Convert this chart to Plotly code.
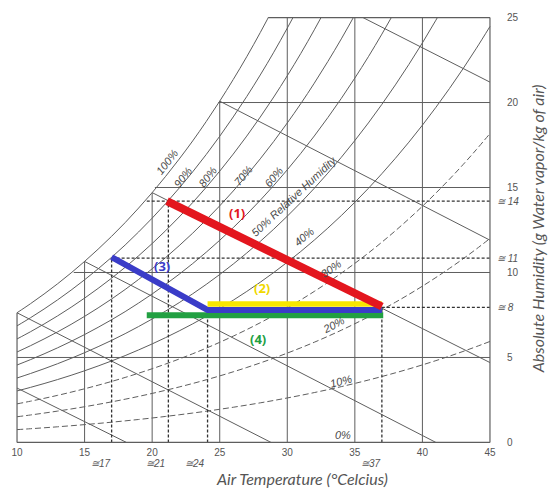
import plotly.graph_objects as go

# ---------------- data ----------------
temps_c = list(range(10, 46))
# saturation vapour pressure (kPa) at each temperature of temps_c
sat_vapour_kpa = [1.228, 1.313, 1.403, 1.498, 1.599, 1.706, 1.819, 1.938, 2.064, 2.198,
                  2.339, 2.488, 2.645, 2.810, 2.985, 3.169, 3.363, 3.567, 3.782, 4.008,
                  4.246, 4.495, 4.758, 5.034, 5.323, 5.627, 5.945, 6.280, 6.630, 6.997,
                  7.381, 7.784, 8.205, 8.646, 9.108, 9.590]
P_ATM = 101.325
rh_levels = [100, 90, 80, 70, 60, 50, 40, 30, 20, 10]
rh_dashed = [30, 20, 10]

grid_temps = [15, 20, 25, 30, 35, 40]
grid_humid = [5, 10, 15, 20]
grid_humid_start_t = [10.0, 14.2, 20.2, 24.9]
sat_top_temp = 28.6

wetbulb_start_t = [10.0, 10.0, 15.0, 20.0, 25.0, 35.6]
wetbulb_start_w = [3.2, 7.63, 10.65, 14.7, 20.08, 25.0]
wetbulb_end_t = [18.1, 28.8, 41.0, 45.0, 45.0, 45.0]
wetbulb_end_w = [0.0, 0.0, 0.0, 4.7, 11.9, 21.2]

# dotted reference lines
ref_h_w = [14.2, 10.85, 7.95]
ref_h_t0 = [19.6, 17.0, 37.0]
ref_v_t = [17.0, 21.2, 24.1, 37.0]
ref_v_top = [10.85, 14.2, 7.8, 7.95]

# process lines
p1_t = [21.1, 37.0];        p1_w = [14.2, 8.0]
p2_t = [24.1, 37.0];        p2_w = [8.15, 8.15]
p3_t = [17.0, 24.1, 37.0];  p3_w = [10.9, 7.8, 7.8]
p4_t = [19.6, 37.1];        p4_w = [7.48, 7.48]

rh_label_text = ["100%", "90%", "80%", "70%", "60%", "50% Relative Humidity", "40%", "30%", "20%", "10%", "0%"]
rh_label_t = [21.1, 22.3, 24.1, 26.7, 29.0, 30.5, 31.2, 33.2, 33.4, 34.0, 34.1]
rh_label_w = [16.5, 15.6, 15.6, 15.7, 15.6, 14.5, 12.1, 10.2, 6.9, 3.6, 0.45]
rh_label_ang = [-52, -52, -52, -50, -50, -43, -40, -35, -28, -15, 0]

approx_x = [17, 21, 24, 37]
approx_y = [14, 11, 8]
approx_y_pos = [14.2, 10.85, 7.95]

proc_labels = ["(1)", "(2)", "(3)", "(4)"]
proc_label_t = [26.3, 28.1, 20.7, 27.8]
proc_label_w = [13.5, 9.06, 10.4, 6.06]

# ---------------- style ----------------
GRAY = "#5e5e5e"
RED = "#e3161e"
YEL = "#f7e600"
YEL_TXT = "#f0d800"
BLUE = "#3a3cc8"
GREEN = "#22a042"
proc_colors = [RED, YEL_TXT, BLUE, GREEN]


def hum(phi, p):
    return 622.0 * phi * p / (P_ATM - phi * p)


fig = go.Figure()


def add_line(x, y, color=GRAY, width=1.0, dash="solid", shape="linear"):
    fig.add_trace(go.Scatter(x=x, y=y, mode="lines",
                             line=dict(color=color, width=width, dash=dash, shape=shape),
                             hoverinfo="skip", showlegend=False))


# relative humidity curves
for rh in rh_levels:
    w = [hum(rh / 100.0, p) for p in sat_vapour_kpa]
    add_line(temps_c, w, dash="6px,3px" if rh in rh_dashed else "solid", shape="spline")

# vertical grid lines
for t in grid_temps:
    top = min(hum(1.0, sat_vapour_kpa[temps_c.index(t)]), 25.0)
    add_line([t, t], [0, top])

# horizontal grid lines
for w, t0 in zip(grid_humid, grid_humid_start_t):
    add_line([t0, 45], [w, w])

# wet-bulb lines
for a, b, c, d in zip(wetbulb_start_t, wetbulb_start_w, wetbulb_end_t, wetbulb_end_w):
    add_line([a, c], [b, d])

# dotted reference lines
for w, t0 in zip(ref_h_w, ref_h_t0):
    add_line([t0, 45], [w, w], color="#333333", width=1.3, dash="3px,2px")
for t, top in zip(ref_v_t, ref_v_top):
    add_line([t, t], [0, top], color="#333333", width=1.3, dash="3px,2px")

# process lines
add_line(p4_t, p4_w, color=GREEN, width=6)
add_line(p3_t, p3_w, color=BLUE, width=6)
add_line(p2_t, p2_w, color=YEL, width=5.5)
add_line(p1_t, p1_w, color=RED, width=8)

# mask curve overshoot above the top border, then frame
shapes = [
    dict(type="rect", xref="x", yref="y", x0=9.85, x1=45.15, y0=25.03, y1=25.15,
         fillcolor="white", line=dict(width=0), layer="above"),
]
sat10 = hum(1.0, sat_vapour_kpa[0])
frame = [((10, 0), (45, 0)), ((45, 0), (45, 25)), ((sat_top_temp, 25), (45, 25)), ((10, 0), (10, sat10))]
for (x0, y0), (x1, y1) in frame:
    shapes.append(dict(type="line", xref="x", yref="y", x0=x0, y0=y0, x1=x1, y1=y1,
                       line=dict(color=GRAY, width=1.2), layer="above"))

annotations = []
for txt, t, w, ang in zip(rh_label_text, rh_label_t, rh_label_w, rh_label_ang):
    annotations.append(dict(x=t, y=w, xref="x", yref="y", text="<i>" + txt + "</i>", showarrow=False,
                            textangle=ang, font=dict(family="Liberation Sans, Arial, sans-serif",
                                                      size=11, color="#4a4a4a")))
for v in approx_x:
    annotations.append(dict(x=v, y=0, xref="x", yref="y", text="<i>\u2245" + str(v) + "</i>",
                            showarrow=False, xanchor="right", yanchor="middle", yshift=-21, xshift=1,
                            font=dict(family="Liberation Sans, Arial, sans-serif", size=10, color="#555555")))
for v, pos in zip(approx_y, approx_y_pos):
    annotations.append(dict(x=45, y=pos, xref="x", yref="y", text="<i>\u2245 " + str(v) + "</i>",
                            showarrow=False, xanchor="left", yanchor="middle", xshift=5,
                            font=dict(family="Liberation Sans, Arial, sans-serif", size=10, color="#555555")))
for txt, t, w, c in zip(proc_labels, proc_label_t, proc_label_w, proc_colors):
    annotations.append(dict(x=t, y=w, xref="x", yref="y", text="<b>" + txt + "</b>", showarrow=False,
                            font=dict(family="Open Sans, Liberation Sans, sans-serif", size=13, color=c)))
annotations.append(dict(x=31.1, y=0, xref="x", yref="y", yshift=-36, showarrow=False,
                        text="<i>Air Temperature (\u00b0Celcius)</i>",
                        font=dict(family="Lato, Open Sans, sans-serif", size=16, color="#555555")))
annotations.append(dict(x=45, y=12.6, xref="x", yref="y", xshift=47, showarrow=False, textangle=-90,
                        text="<i>Absolute Humidity (g Water vapor/kg of air)</i>",
                        font=dict(family="Lato, Open Sans, sans-serif", size=16, color="#555555")))

fig.update_layout(
    width=549, height=492,
    margin=dict(l=15, r=57, t=15, b=47),
    paper_bgcolor="white", plot_bgcolor="white",
    showlegend=False,
    shapes=shapes,
    annotations=annotations,
    xaxis=dict(range=[9.85, 45.15], tickvals=[10, 15, 20, 25, 30, 35, 40, 45],
               showgrid=False, zeroline=False, showline=False, ticks="",
               tickfont=dict(family="Liberation Sans Narrow, Liberation Sans, sans-serif", size=10, color="#555555")),
    yaxis=dict(range=[-0.15, 25.15], side="right", tickvals=[0, 5, 10, 15, 20, 25],
               showgrid=False, zeroline=False, showline=False, ticks="", ticklabelstandoff=14,
               tickfont=dict(family="Liberation Sans Narrow, Liberation Sans, sans-serif", size=10, color="#555555")),
)

# remove the default page margin so the figure sits at the window's top-left corner
fig.write_html("out.html",
               config={"displayModeBar": False},
               post_script="document.body.style.margin='0';document.body.style.overflow='hidden';")
